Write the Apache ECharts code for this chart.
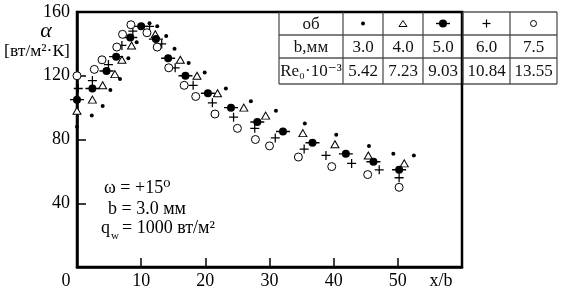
<!DOCTYPE html>
<html>
<head>
<meta charset="utf-8">
<script src="https://cdn.jsdelivr.net/npm/echarts@6/dist/echarts.min.js"></script>
<style>
  html, body { margin: 0; padding: 0; background: #fff; }
  #main { width: 566px; height: 295px; }
</style>
</head>
<body>
<div id="main"></div>
<script>
// данные: x/b и α для разных ширин b
var s30 = [[0,88],[2.3,95],[4,101],[5.2,111],[6.7,118],[8,131],[9.3,141],[11.3,153],[12.5,151],[13.9,145],[15.2,137],[17.4,128],[19.9,122],[23.2,112],[27.1,104],[31,98],[35.5,90],[40.4,83],[45.5,76],[49.3,71],[52.5,70]];
var s40 = [[0,98],[2.4,105],[4,114],[5.9,121],[7,130],[8.5,139],[12.2,146],[16.1,130],[18.7,120],[21.9,109],[26,100],[29.4,95],[35.2,84],[40.2,77],[45.4,70],[51,65]];
var s50 = [[0,105],[2.4,112],[4.6,123],[6.1,132],[8.3,144],[10,151],[12.3,143],[14.2,131],[16.9,120],[20.4,109],[24,100],[28.1,91],[32.1,85],[36.7,78],[41.9,71],[46.2,66],[50.2,61]];
var s60 = [[0.2,112],[2.4,117],[4.9,127],[7,139],[8.7,148],[11.3,151],[13.2,140],[15.3,125],[18.1,114],[21.1,103],[24.4,94],[27.7,87],[30.9,81],[35.4,74],[38.8,70],[42.8,65],[47.1,61],[50.2,56]];
var s75 = [[0,120],[2.7,124],[3.9,130],[6.2,138],[7.1,146],[8.4,152],[10.9,147],[12.5,138],[14.3,125],[16.7,114],[18.5,107],[21.5,96],[25,87],[27.8,80],[30,76],[34.5,69],[39.7,63],[45.3,58],[50.2,50]];

// таблица
var rowNames = ['об', 'b,мм', 'Re\u2080\u00b710\u207b\u00b3'];
var bValues = ['3.0', '4.0', '5.0', '6.0', '7.5'];
var reValues = ['5.42', '7.23', '9.03', '10.84', '13.55'];

var SERIF = "'Liberation Serif', 'DejaVu Serif', serif";
var barDot = 'path://M0,3.3H14V4.7H0Z M3,4A4,4,0,1,1,11,4A4,4,0,1,1,3,4Z';
var plus = 'path://M4,0H5.3V9.3H4Z M0,4H9.3V5.3H0Z';

var chart = echarts.init(document.getElementById('main'));

// таблица в правом верхнем углу
var colX = [279, 343, 383, 423, 463, 510, 557];
var rowY = [12, 35, 58, 84];
var tbl = [];
for (var i = 0; i < rowY.length; i++) {
    tbl.push({type: 'line', shape: {x1: colX[0], y1: rowY[i], x2: colX[6], y2: rowY[i]}, style: {stroke: '#000', lineWidth: 1.2}});
}
for (var j = 0; j < colX.length; j++) {
    tbl.push({type: 'line', shape: {x1: colX[j], y1: rowY[0], x2: colX[j], y2: rowY[3]}, style: {stroke: '#444', lineWidth: 1.2}});
}
function cellText(txt, c, r) {
    return {type: 'text', style: {text: txt, x: (colX[c] + colX[c + 1]) / 2, y: (rowY[r] + rowY[r + 1]) / 2 + 1,
        textAlign: 'center', textVerticalAlign: 'middle', font: '17px ' + SERIF, fill: '#111'}};
}
for (var r = 0; r < 3; r++) tbl.push(cellText(rowNames[r], 0, r));
for (var k = 0; k < 5; k++) {
    tbl.push(cellText(bValues[k], k + 1, 1));
    tbl.push(cellText(reValues[k], k + 1, 2));
}
var cy = (rowY[0] + rowY[1]) / 2;
function cx(c) { return (colX[c] + colX[c + 1]) / 2; }
tbl.push({type: 'circle', shape: {cx: cx(1), cy: cy, r: 2}, style: {fill: '#000'}});
tbl.push({type: 'polygon', shape: {points: [[cx(2) - 4, cy + 3], [cx(2) + 4, cy + 3], [cx(2), cy - 3]]}, style: {fill: '#fff', stroke: '#000', lineWidth: 1}});
tbl.push({type: 'line', shape: {x1: cx(3) - 7, y1: cy, x2: cx(3) + 7, y2: cy}, style: {stroke: '#000', lineWidth: 1.4}});
tbl.push({type: 'circle', shape: {cx: cx(3), cy: cy, r: 4}, style: {fill: '#000'}});
tbl.push({type: 'line', shape: {x1: cx(4) - 4, y1: cy, x2: cx(4) + 4, y2: cy}, style: {stroke: '#000', lineWidth: 1.2}});
tbl.push({type: 'line', shape: {x1: cx(4), y1: cy - 4, x2: cx(4), y2: cy + 4}, style: {stroke: '#000', lineWidth: 1.2}});
tbl.push({type: 'circle', shape: {cx: cx(5), cy: cy, r: 3}, style: {fill: '#fff', stroke: '#000', lineWidth: 1}});

var texts = [
    {type: 'text', style: {text: '\u03b1', x: 46, y: 31, textAlign: 'center', textVerticalAlign: 'middle', font: 'italic 22px ' + SERIF, fill: '#000'}},
    {type: 'text', style: {text: '[вт/м\u00b2\u00b7К]', x: 37, y: 51, textAlign: 'center', textVerticalAlign: 'middle', font: '17.5px ' + SERIF, fill: '#000'}},
    {type: 'text', style: {text: '0', x: 66, y: 281, textAlign: 'center', textVerticalAlign: 'middle', font: '18px ' + SERIF, fill: '#000'}},
    {type: 'text', style: {text: 'x/b', x: 441, y: 281, textAlign: 'center', textVerticalAlign: 'middle', font: '18px ' + SERIF, fill: '#000'}},
    {type: 'text', style: {text: '\u03c9 = +15\u2070', x: 104, y: 188, textVerticalAlign: 'middle', font: '18px ' + SERIF, fill: '#000'}},
    {type: 'text', style: {text: 'b = 3.0 мм', x: 108, y: 209, textVerticalAlign: 'middle', font: '18px ' + SERIF, fill: '#000'}},
    {type: 'text', style: {text: 'q', x: 101, y: 228, textVerticalAlign: 'middle', font: '18px ' + SERIF, fill: '#000'}},
    {type: 'text', style: {text: 'w', x: 111, y: 236, textVerticalAlign: 'middle', font: '11px ' + SERIF, fill: '#000'}},
    {type: 'text', style: {text: '= 1000 вт/м\u00b2', x: 122, y: 228, textVerticalAlign: 'middle', font: '18px ' + SERIF, fill: '#000'}}
];

var option = {
    backgroundColor: '#fff',
    animation: false,
    grid: {
        left: 77, top: 12, width: 385, height: 255,
        show: true, borderColor: '#000', borderWidth: 2.5, backgroundColor: 'transparent'
    },
    xAxis: {
        type: 'value', min: 0, max: 60, interval: 10,
        axisLine: {lineStyle: {color: '#000', width: 2.5}},
        axisTick: {inside: true, length: 9, lineStyle: {color: '#000', width: 1.5}},
        axisLabel: {
            margin: 5, color: '#000', fontSize: 18, fontFamily: SERIF,
            formatter: function (v) { return (v === 0 || v === 60) ? '' : v; }
        },
        splitLine: {show: false}
    },
    yAxis: {
        type: 'value', min: 0, max: 160, interval: 40,
        axisLine: {show: true, lineStyle: {color: '#000', width: 2.5}},
        axisTick: {show: true, inside: true, length: 9, lineStyle: {color: '#000', width: 1.5}},
        axisLabel: {
            margin: 7, color: '#000', fontSize: 18, fontFamily: SERIF,
            formatter: function (v) { return v === 0 ? '' : v; }
        },
        splitLine: {show: false}
    },
    series: [
        {name: '3.0', type: 'scatter', data: s30, symbol: 'circle', symbolSize: 4, itemStyle: {color: '#000', opacity: 1}},
        {name: '4.0', type: 'scatter', data: s40, symbol: 'triangle', symbolSize: [8, 7], itemStyle: {color: '#fff', borderColor: '#000', borderWidth: 1, opacity: 1}},
        {name: '5.0', type: 'scatter', data: s50, symbol: barDot, symbolSize: [14, 8], itemStyle: {color: '#000', opacity: 1}},
        {name: '6.0', type: 'scatter', data: s60, symbol: plus, symbolSize: 9, itemStyle: {color: '#000', opacity: 1}},
        {name: '7.5', type: 'scatter', data: s75, symbol: 'circle', symbolSize: 8, itemStyle: {color: '#fff', borderColor: '#000', borderWidth: 1, opacity: 1}}
    ],
    graphic: tbl.concat(texts)
};
chart.setOption(option);
</script>
</body>
</html>
